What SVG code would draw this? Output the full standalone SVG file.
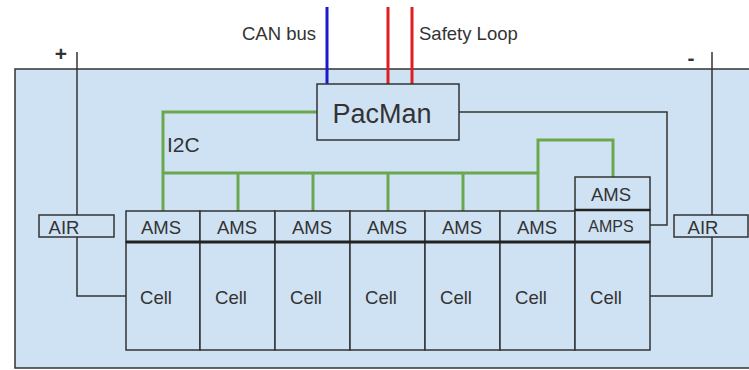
<svg xmlns="http://www.w3.org/2000/svg" width="749" height="370" viewBox="0 0 749 370">
  <style>
    .box { fill: #cfe2f3; stroke: #333; stroke-width: 1.5; }
    .wire { fill: none; stroke: #333; stroke-width: 1.5; }
    .i2c { fill: none; stroke: #6aa84f; stroke-width: 3; }
    .t { font-family: "Liberation Sans", Arial, sans-serif; fill: #333; }
    .c { text-anchor: middle; }
    .lbl { font-size: 18.5px; }
    .big { font-size: 27px; }
    .bus { font-size: 21px; }
    .small { font-size: 16px; }
    .pole { font-size: 21px; font-weight: bold; text-anchor: middle; }
  </style>
  <rect width="749" height="370" fill="#ffffff"/>

  <!-- pack enclosure -->
  <g id="enclosure">
    <rect class="box" x="15" y="69" width="740" height="299"/>
  </g>

  <!-- external signal lines -->
  <g id="external">
    <line x1="327" y1="7" x2="327" y2="84" stroke="#1a1acc" stroke-width="3"/>
    <line x1="388" y1="7" x2="388" y2="84" stroke="#e01e1e" stroke-width="3"/>
    <line x1="412" y1="7" x2="412" y2="84" stroke="#e01e1e" stroke-width="3"/>
    <text class="t lbl" x="316" y="40" text-anchor="end">CAN bus</text>
    <text class="t lbl" x="419" y="40">Safety Loop</text>
    <text class="t pole" x="61" y="61">+</text>
    <text class="t pole" x="691" y="65">-</text>
  </g>

  <!-- connectors -->
  <g id="connectors">
    <!-- positive path through AIR -->
    <polyline class="wire" points="77,52 77,215"/>
    <polyline class="wire" points="77,237 77,296 126,296"/>
    <!-- negative path through AIR -->
    <polyline class="wire" points="712,52 712,215"/>
    <polyline class="wire" points="712,237 712,296 650,296"/>
    <!-- PacMan to AMPS -->
    <polyline class="wire" points="459,112 667,112 667,225 650,225"/>
    <!-- I2C bus -->
    <polyline class="i2c" points="317,112 163,112 163,211"/>
    <line class="i2c" x1="163" y1="173" x2="539" y2="173"/>
    <line class="i2c" x1="238" y1="173" x2="238" y2="211"/>
    <line class="i2c" x1="313" y1="173" x2="313" y2="211"/>
    <line class="i2c" x1="388" y1="173" x2="388" y2="211"/>
    <line class="i2c" x1="463" y1="173" x2="463" y2="211"/>
    <polyline class="i2c" points="538,211 538,140 613,140 613,177"/>
    <text class="t bus" x="167" y="152">I2C</text>
  </g>

  <g id="pacman">
    <rect class="box" x="317" y="84" width="142" height="56"/>
    <text class="t c big" x="382" y="123">PacMan</text>
  </g>

  <g id="air-pos">
    <rect class="box" x="39" y="215" width="75" height="22"/>
    <text class="t c lbl" x="64" y="234">AIR</text>
  </g>
  <g id="air-neg">
    <rect class="box" x="674" y="215" width="74" height="22"/>
    <text class="t c lbl" x="703" y="234">AIR</text>
  </g>

  <g id="ams-row">
    <rect class="box" x="126" y="211" width="74" height="31"/>
    <rect class="box" x="200" y="211" width="75" height="31"/>
    <rect class="box" x="275" y="211" width="75" height="31"/>
    <rect class="box" x="350" y="211" width="75" height="31"/>
    <rect class="box" x="425" y="211" width="75" height="31"/>
    <rect class="box" x="500" y="211" width="75" height="31"/>
    <text class="t c lbl" x="161" y="234">AMS</text>
    <text class="t c lbl" x="237" y="234">AMS</text>
    <text class="t c lbl" x="312" y="234">AMS</text>
    <text class="t c lbl" x="387" y="234">AMS</text>
    <text class="t c lbl" x="462" y="234">AMS</text>
    <text class="t c lbl" x="537" y="234">AMS</text>
  </g>

  <g id="ams-top">
    <rect class="box" x="575" y="177" width="75" height="33"/>
    <text class="t c lbl" x="611" y="201">AMS</text>
  </g>
  <g id="amps">
    <rect class="box" x="575" y="210" width="75" height="32"/>
    <text class="t c small" x="611" y="232">AMPS</text>
    <line x1="575" y1="210" x2="650" y2="210" stroke="#222" stroke-width="2.5"/>
  </g>

  <g id="cells">
    <rect class="box" x="126" y="242" width="74" height="108"/>
    <rect class="box" x="200" y="242" width="75" height="108"/>
    <rect class="box" x="275" y="242" width="75" height="108"/>
    <rect class="box" x="350" y="242" width="75" height="108"/>
    <rect class="box" x="425" y="242" width="75" height="108"/>
    <rect class="box" x="500" y="242" width="75" height="108"/>
    <rect class="box" x="575" y="242" width="75" height="108"/>
    <line x1="126" y1="242" x2="650" y2="242" stroke="#222" stroke-width="3"/>
    <text class="t c lbl" x="156" y="304">Cell</text>
    <text class="t c lbl" x="231" y="304">Cell</text>
    <text class="t c lbl" x="306" y="304">Cell</text>
    <text class="t c lbl" x="381" y="304">Cell</text>
    <text class="t c lbl" x="456" y="304">Cell</text>
    <text class="t c lbl" x="531" y="304">Cell</text>
    <text class="t c lbl" x="606" y="304">Cell</text>
  </g>
</svg>
